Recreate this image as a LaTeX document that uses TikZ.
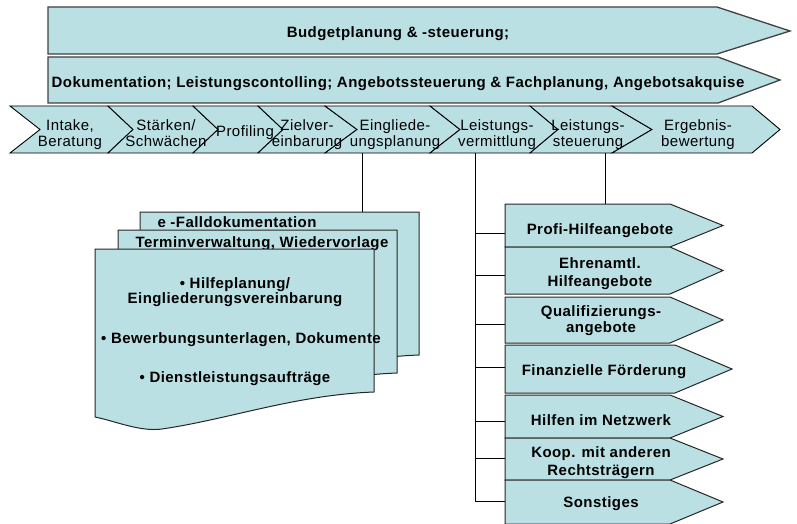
\documentclass[tikz,border=0pt]{standalone}
\usepackage{fontspec}
\newfontfamily\lblfont[LetterSpace=3]{Liberation Sans}
\definecolor{tealfill}{RGB}{187,224,228}

% one chevron of the process row: left x, notch x, body end x, tip x
\newcommand\chevshape[4]{%
  \draw[chevline] (#1,106) -- (#3,106) -- (#4,129.5) -- (#3,153) -- (#1,153) -- (#2,129.5) -- cycle;}
% one offer arrow on the right: top y, bottom y, body end x, tip x
\newcommand\offershape[4]{%
  \draw[shapeline] (505,#1) -- (#3,#1) -- (#4,{(#1+#2)/2}) -- (#3,#2) -- (505,#2) -- cycle;}
% one sheet of the document stack, drawn from its top left corner
\newcommand\sheetshape[2]{%
  \begin{scope}[shift={(#1,#2)}]
    \draw[shapeline] (0,0) -- (279,0) -- (279,143)
      .. controls (200,146) and (135,170) .. (67,180)
      .. controls (45,183) and (20,172) .. (0,168) -- cycle;
  \end{scope}}

\begin{document}
\begin{tikzpicture}[x=1pt,y=-1pt,
  topline/.style={draw=black!75, line width=1.3pt, fill=tealfill},
  chevline/.style={draw=black, line width=0.9pt, fill=tealfill},
  shapeline/.style={draw=black!85, line width=1pt, fill=tealfill},
  lbl/.style={font=\lblfont\fontsize{15}{16}\selectfont, align=center,
    inner sep=0pt, text height=10.7pt, text depth=0pt},
  blbl/.style={lbl, font=\lblfont\bfseries\fontsize{15}{18}\selectfont},
  % two-line labels: placed by the baseline of their last line
  twoline/.style={anchor=south},
  link/.style={draw=black, line width=0.8pt}]
\useasboundingbox (0,0) rectangle (797,524);

% overarching tasks
\draw[topline] (48,7) -- (717,7) -- (790,31) -- (717,54) -- (48,54) -- cycle;
\node[blbl] (budget) at (398,32) {Budgetplanung \& -steuerung;};
\draw[topline] (48,57) -- (718,57) -- (780,80) -- (718,103) -- (48,103) -- cycle;
\node[blbl] (doku) at (398,82) {Dokumentation; Leistungscontolling; Angebotssteuerung \& Fachplanung, Angebotsakquise};

% process row
\chevshape{10}{40}{108}{133}
\chevshape{108}{133}{193}{218}
\chevshape{193}{218}{258}{283}
\chevshape{258}{283}{325}{357}
\chevshape{325}{357}{430}{460}
\chevshape{430}{460}{530}{558}
\chevshape{530}{558}{612}{652}
\chevshape{612}{652}{752}{780}
\node[lbl, twoline] (intake) at (70,147) {Intake,\\Beratung};
\node[lbl, twoline] (staerken) at (166,147) {Stärken/\\Schwächen};
\node[lbl] (profiling) at (245,131) {Profiling};
\node[lbl, twoline] (ziel) at (307,147) {Zielver-\\einbarung};
\node[lbl, twoline] (eingl) at (395,147) {Eingliede-\\ungsplanung};
\node[lbl, twoline] (vermitt) at (497,147) {Leistungs-\\vermittlung};
\node[lbl, twoline] (steuer) at (588,147) {Leistungs-\\steuerung};
\node[lbl, twoline] (ergebnis) at (698,147) {Ergebnis-\\bewertung};

% connector anchors
\coordinate (c5) at (362,153);
\coordinate (c6) at (475,153);
\coordinate (c7) at (605,153);
\coordinate (stacktop) at (362,212);
\coordinate (offertop) at (605,204);
\coordinate (o1) at (507,233);
\coordinate (o2) at (507,275);
\coordinate (o3) at (507,324);
\coordinate (o4) at (507,367);
\coordinate (o5) at (507,421);
\coordinate (o6) at (507,458);
\coordinate (o7) at (507,501);

\draw[link] (c5) -- (stacktop);
\draw[link] (c7) -- (offertop);
\draw[link] (c6) -- (c6 |- o7);
\foreach \o in {o1,o2,o3,o4,o5,o6,o7}
  \draw[link] (c6 |- \o) -- (\o);

% document stack
\sheetshape{140}{212}
\node[blbl] (efall) at (237,222) {e -Falldokumentation};
\sheetshape{118}{230}
\node[blbl] (termin) at (262,242) {Terminverwaltung, Wiedervorlage};
\sheetshape{95}{249}
\node[blbl, twoline, font=\lblfont\bfseries\fontsize{15}{15}\selectfont] (hilfepl) at (235,304) {• Hilfeplanung/\\Eingliederungsvereinbarung};
\node[blbl] (bewerb) at (241,338.5) {• Bewerbungsunterlagen, Dokumente};
\node[blbl] (dienst) at (235,377.5) {• Dienstleistungsaufträge};

% offers
\offershape{204}{247}{670}{723}
\offershape{247}{294}{670}{723}
\offershape{297}{343}{670}{723}
\offershape{345}{393}{675}{732}
\offershape{395}{438}{670}{723}
\offershape{438}{480}{670}{723}
\offershape{480}{524}{670}{723}
\node[blbl] (profi) at (600,229) {Profi-Hilfeangebote};
\node[blbl, twoline] (ehren) at (600,287) {Ehrenamtl.\\Hilfeangebote};
\node[blbl, twoline, font=\lblfont\bfseries\fontsize{15}{16}\selectfont] (quali) at (601,333) {Qualifizierungs-\\angebote};
\node[blbl] (finanz) at (604,370) {Finanzielle Förderung};
\node[blbl] (netz) at (601,420) {Hilfen im Netzwerk};
\node[blbl, twoline] (koop) at (601,476) {Koop. mit anderen\\Rechtsträgern};
\node[blbl] (sonst) at (601,502.5) {Sonstiges};
\end{tikzpicture}
\end{document}
